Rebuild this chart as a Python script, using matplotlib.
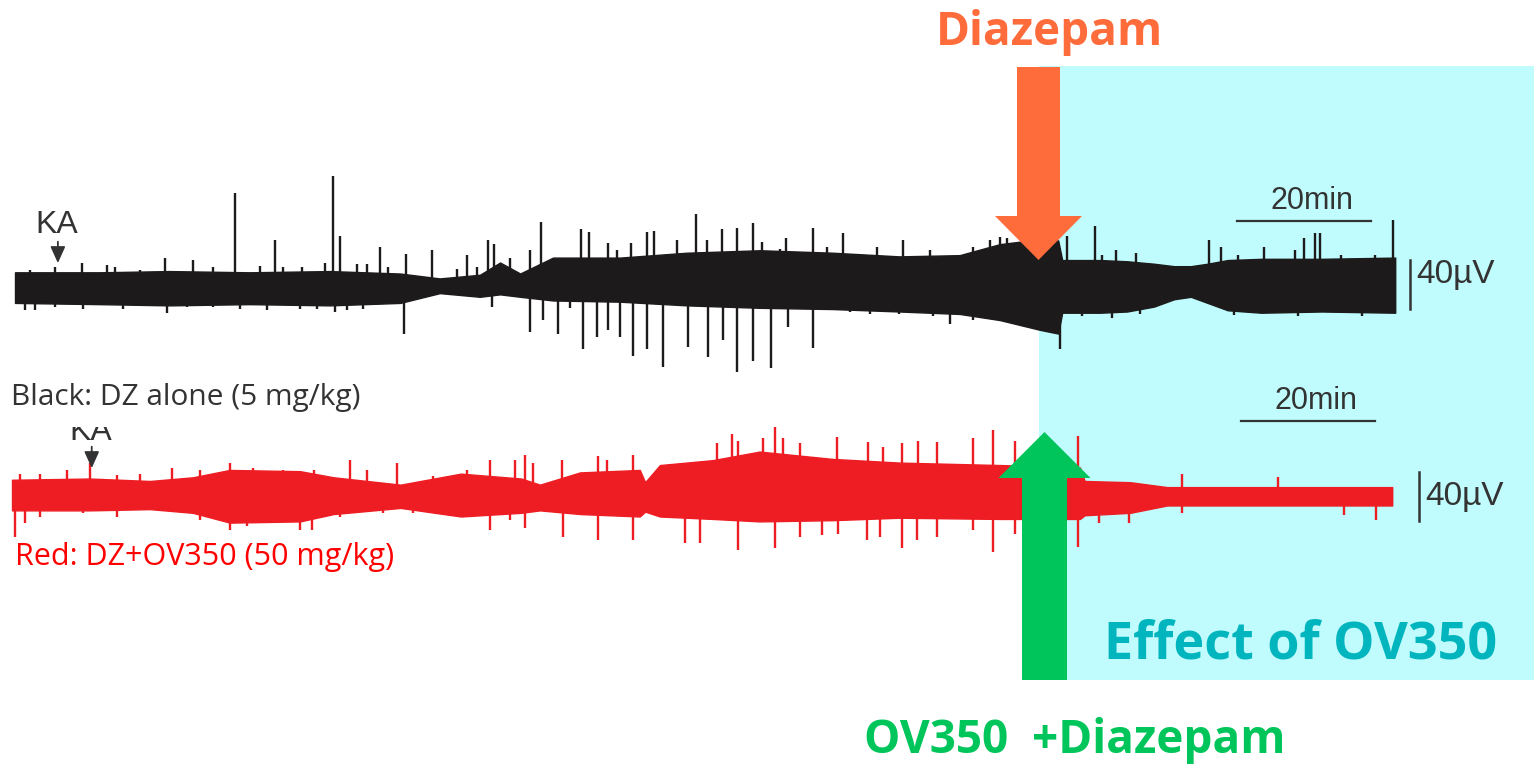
import matplotlib
matplotlib.use("Agg")
import matplotlib.pyplot as plt
from matplotlib.patches import Rectangle, FancyArrow

W, H = 1534, 764

# ---- data (time in min, amplitude in uV) ----
# black trace: DZ alone
blk_t = [0, 12.7, 23, 35, 47, 57.5, 63.4, 69.4, 72.4, 75.4, 80.3, 90.3, 100.3,
         111.2, 122, 132, 141, 147, 153, 155.7, 156.3, 162, 166, 170, 173,
         175.5, 178, 181, 186, 195, 206]
blk_up = [12, 12, 13, 12, 13, 11, 7, 10, 20, 11, 24, 24, 28,
          30, 28, 25, 26, 35, 39, 38, 22, 22, 21, 19, 17,
          17, 19, 22, 23, 23, 24]
blk_lo = [-13, -14, -15, -14, -15, -13, -5, -8, -6, -8, -11, -12, -15,
          -17, -18, -20, -22, -27, -35, -38, -21, -21, -20, -16, -10,
          -8, -13, -19, -21, -20, -21]
blk_spk_up_t = [10, 22.4, 32.8, 38.8, 47.5, 48.5, 54.5, 58.4, 62.2, 67.5, 70.6,
                71.5, 76.9, 78.5, 84.5, 85.7, 88.5, 94.3, 95.4, 101.6, 103.3,
                105.5, 107.8, 110.1, 111.5, 115, 119.1, 123.6, 128.7, 132.5,
                147, 148, 157, 161.2, 164.3, 178.2, 180, 186.4, 191, 192.4,
                194, 194.8, 205.7,
                # small edge bumps
                2.2, 6, 13.7, 14.9, 18.7, 26.6, 29.6, 36.6, 40, 42.8, 46.3,
                51, 52.5, 55.7, 66, 69, 73.9, 89.9, 92, 98.8, 114.2, 121.2,
                126, 136.6, 143, 145.5, 162.2, 167.3, 182.5, 197.9, 203]
blk_spk_up_v = [20, 24, 77, 38, 91, 42, 33, 27, 30, 26, 38,
                35, 30, 53, 47, 45, 36, 45, 46, 60, 38,
                47, 48, 52, 37, 40, 48, 44, 33, 38,
                41, 40, 42, 50, 30, 38, 33, 33, 30, 40,
                44, 44, 55,
                14, 16, 18, 16, 14, 22, 16, 17, 16, 16, 20,
                19, 19, 16, 15, 16, 24, 30, 36, 38, 31, 33,
                27, 30, 33, 38, 26, 28, 26, 26, 26]
blk_spk_dn_t = [58, 76.9, 78.8, 81, 82.8, 84.8, 86.9, 88.5, 90.3, 92.2, 94.3,
                96.7, 100.4, 103.4, 105.7, 107.8, 110.1, 112.8, 115.4, 119.1,
                156,
                1.5, 3, 6, 10.1, 16.1, 22.7, 25.7, 29.6, 33.6, 37.6, 42.5,
                45.1, 47.8, 49.6, 51.9, 71.2, 124.6, 127.6, 132, 137, 139.6,
                143, 146, 148.5, 159.2, 163.7, 167.9, 182, 191.5, 201]
blk_spk_dn_v = [-38, -37, -27, -38, -17, -51, -41, -35, -41, -56, -51,
                -65, -49, -57, -43, -69, -60, -66, -33, -50,
                -51,
                -19, -19, -16, -18, -18, -21, -16, -16, -18, -19, -18,
                -18, -20, -19, -18, -16, -20, -22, -22, -24, -30,
                -27, -27, -24, -24, -25, -22, -23, -24, -24]

# red trace: DZ + OV350
red_t = [0, 11.6, 20.6, 27, 32.5, 43, 48, 58, 67, 76, 78.8, 84.8, 93.7, 94.5,
         96.7, 104.6, 111.6, 122.5, 132.5, 147.5, 159.4, 160.1, 166.9, 172.4,
         206]
red_up = [10, 11, 9, 12, 18, 17, 12, 6, 15, 11, 6, 16, 18, 8,
          22, 26, 33, 27, 24, 22, 20, 9, 8, 4,
          4]
red_lo = [-15, -15, -14, -17, -25, -24, -18, -13, -20, -17, -15, -18, -20, -16,
          -20, -22, -24, -23, -21, -22, -22, -19, -17, -11,
          -11]
red_spk_up_t = [11.6, 23.9, 32.5, 50.4, 57.5, 71.3, 75, 76.6, 77.8, 82.1, 87.5,
                88.8, 92.7, 105.2, 107.5, 108.4, 112.1, 113.9, 115.1, 117.6,
                123.1, 127.8, 130, 132.8, 135.2, 138, 143.4, 146.4, 149.7,
                159.1, 174.6, 189,
                1.2, 4.2, 8.2, 15.7, 19.1, 28, 36, 40.4, 45, 53, 62.8, 67.9]
red_spk_up_v = [24, 20, 24, 26, 24, 26, 26, 30, 24, 26, 29,
                26, 30, 40, 47, 42, 44, 53, 44, 40,
                45, 41, 37, 40, 42, 41, 44, 51, 42,
                46, 15, 12,
                15, 15, 18, 14, 15, 18, 20, 18, 18, 18, 13, 18]
red_spk_dn_t = [0.4, 1.9, 32.5, 38, 43, 44.8, 71.3, 76.6, 82.2, 87.5, 92.7,
                100.4, 102.7, 108.4, 113.9, 117.6, 120.9, 123.3, 127.6, 129.6,
                132.8, 135.1, 138, 143.4, 146.4, 149.7, 159.1, 162.2, 166.7,
                174.6, 198.8, 203.6,
                4.2, 10.6, 15.7, 28, 35, 40.4, 49, 55.4, 59.9, 67.9, 74.3]
red_spk_dn_v = [-37, -25, -31, -25, -31, -31, -31, -29, -37, -39, -39,
                -42, -42, -47, -46, -37, -35, -34, -39, -37,
                -46, -39, -37, -31, -49, -34, -45, -25, -25,
                -17, -19, -23,
                -20, -17, -20, -23, -28, -23, -20, -17, -17, -17, -23]

ka_time = [6.4, 11.9]
scale_min = 20
scale_uv = 40

# colours
BLACK_TR = '#1c1a1a'
RED_TR = '#ee1d23'
ORANGE = '#ff6c3b'
GREEN = '#00c55a'
CYAN = '#c0fcfd'
TEAL = '#00b5be'
GREY_TXT = '#333333'

PX_MIN = 6.7     # pixels per minute
PX_UV = 1.225    # pixels per microvolt

fig = plt.figure(figsize=(W / 100, H / 100), dpi=100)
fig.patch.set_facecolor('white')

back = fig.add_axes([0, 0, 1, 1], zorder=0)
back.set_xlim(0, W)
back.set_ylim(H, 0)
back.axis('off')
back.add_patch(Rectangle((1039, 66), W - 1039, 614, facecolor=CYAN,
                         edgecolor='none'))


def trace_axes(x0, yc, top, bottom):
    ax = fig.add_axes([0, 1 - bottom / H, 1, (bottom - top) / H], zorder=1)
    ax.patch.set_alpha(0)
    ax.set_xlim(-x0 / PX_MIN, (W - x0) / PX_MIN)
    ax.set_ylim((yc - bottom) / PX_UV, (yc - top) / PX_UV)
    ax.axis('off')
    return ax


def draw_trace(ax, t, up, lo, sut, suv, sdt, sdv, color):
    ax.fill_between(t, lo, up, color=color, lw=1.0, edgecolor=color)
    ax.vlines(sut, 0, suv, color=color, lw=1.7)
    ax.vlines(sdt, 0, sdv, color=color, lw=1.7)


def scale_bars(ax, t0, bar_y, t_bar, uv_lo, txt_uv):
    ax.plot([t0, t0 + scale_min], [bar_y, bar_y], color=GREY_TXT, lw=1.6)
    ax.text(t0 + scale_min / 2 + 1.2, bar_y + 4, f"{scale_min}min", ha='center',
            va='bottom', fontsize=22, color=GREY_TXT, family='Liberation Sans')
    ax.plot([t_bar, t_bar], [uv_lo, uv_lo + scale_uv], color=GREY_TXT, lw=1.8)
    ax.text(t_bar + 1.0, txt_uv, f"{scale_uv}\u00b5V", ha='left',
            va='center', fontsize=24, color=GREY_TXT, family='Liberation Sans')


def ka_mark(ax, t, bottom_uv):
    ax.annotate('', xy=(t, 19.5), xytext=(t, 37),
                arrowprops=dict(arrowstyle='-|>,head_width=0.45,head_length=1.0',
                                color=GREY_TXT, lw=1.3, shrinkA=0, shrinkB=0))
    ax.text(t - 0.2, bottom_uv, "KA", ha='center', va='baseline', fontsize=23,
            color=GREY_TXT, family='Liberation Sans')


# black trace
axb = trace_axes(15, 287, 140, 400)
draw_trace(axb, blk_t, blk_up, blk_lo, blk_spk_up_t, blk_spk_up_v,
           blk_spk_dn_t, blk_spk_dn_v, BLACK_TR)
scale_bars(axb, 182.4, 54, 208.2, -18, 10)
ka_mark(axb, ka_time[0], 44)

# red trace
axr = trace_axes(12, 492, 380, 600)
draw_trace(axr, red_t, red_up, red_lo, red_spk_up_t, red_spk_up_v,
           red_spk_dn_t, red_spk_dn_v, RED_TR)
scale_bars(axr, 183.4, 58, 210, -24, -4)
ka_mark(axr, ka_time[1], 42.5)

front = fig.add_axes([0, 0, 1, 1], zorder=2)
front.patch.set_alpha(0)
front.set_xlim(0, W)
front.set_ylim(H, 0)
front.axis('off')

# the red panel's KA label is cut off at the top
front.add_patch(Rectangle((55, 405), 80, 22, facecolor='white', edgecolor='none'))

# arrows
front.add_patch(FancyArrow(1038.5, 67, 0, 193, width=43, head_width=87,
                           head_length=44, length_includes_head=True,
                           color=ORANGE, lw=0))
front.add_patch(FancyArrow(1044.5, 680, 0, -248, width=45, head_width=92,
                           head_length=46, length_includes_head=True,
                           color=GREEN, lw=0))

# labels
front.text(1049, 33, "Diazepam", ha='center', va='center', fontsize=33,
           fontweight='bold', color=ORANGE, family='Open Sans')
front.text(1301, 645, "Effect of OV350", ha='center', va='center', fontsize=37.5,
           fontweight='bold', color=TEAL, family='Open Sans')
front.text(1075, 740, "OV350  +Diazepam", ha='center', va='center', fontsize=33,
           fontweight='bold', color=GREEN, family='Open Sans')
front.text(11, 398, "Black: DZ alone (5 mg/kg)", ha='left', va='center',
           fontsize=21.5, color=GREY_TXT, family='Open Sans')
front.text(15, 557, "Red: DZ+OV350 (50 mg/kg)", ha='left', va='center',
           fontsize=22, color='#ff0000', family='Open Sans')

fig.savefig('out.png', dpi=100, facecolor='white')
